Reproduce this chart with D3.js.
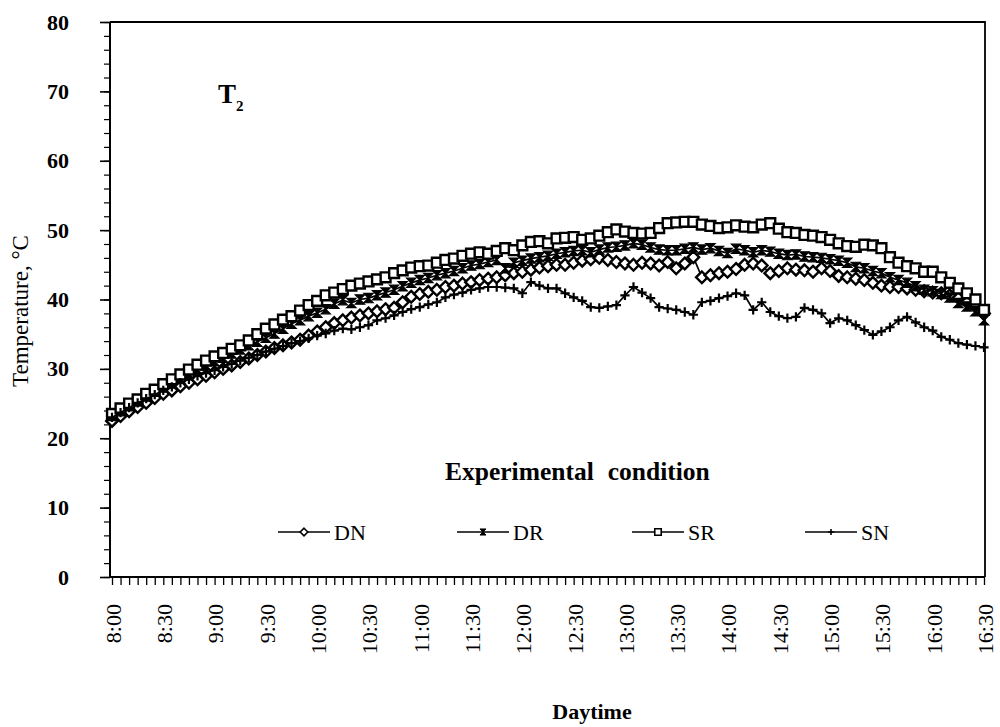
<!DOCTYPE html>
<html>
<head>
<meta charset="utf-8">
<script src="https://cdn.jsdelivr.net/npm/d3@7/dist/d3.min.js"></script>
<style>
    body { margin: 0; background: #fff; }
    svg text { font-family: "Liberation Serif", "Times New Roman", serif; fill: #000; }
</style>
</head>
<body>
<svg id="chart" width="1000" height="727"></svg>
<script>
// readings every 5 minutes, 8:00 .. 16:30
const stepMinutes = 5;
const timeLabels = ["8:00", "8:30", "9:00", "9:30", "10:00", "10:30", "11:00", "11:30", "12:00",
    "12:30", "13:00", "13:30", "14:00", "14:30", "15:00", "15:30", "16:00", "16:30"];
const yTicks = [0, 10, 20, 30, 40, 50, 60, 70, 80];

const dn = [
    22.5, 23.2, 23.9, 24.5, 25.1, 25.8, 26.4, 26.9, 27.5, 28.0, 28.5, 29.0,
    29.5, 30.0, 30.5, 31.0, 31.5, 32.0, 32.5, 33.0, 33.4, 33.8, 34.2, 34.8,
    35.4, 36.0, 36.6, 37.0, 37.4, 37.7, 38.0, 38.3, 38.6, 38.8, 39.6, 40.4,
    40.8, 41.1, 41.4, 41.8, 42.0, 42.3, 42.5, 42.8, 43.0, 43.2, 43.5, 43.8,
    44.0, 44.3, 44.6, 44.8, 45.0, 45.0, 45.3, 45.6, 45.8, 46.0, 45.7, 45.4,
    45.2, 45.0, 45.3, 45.2, 44.9, 45.4, 44.5, 45.2, 46.1, 43.2, 43.5, 43.8,
    44.0, 44.4, 45.0, 45.2, 44.9, 43.8, 44.1, 44.5, 44.3, 44.2, 44.0, 44.5,
    44.1, 43.4, 43.2, 43.0, 42.8, 42.4, 42.0, 41.8, 41.8, 41.6, 41.4, 41.2,
    41.0, 40.9, 40.6, 40.2, 39.6, 39.0, 38.0
];
const dr = [
    23.2, 23.9, 24.6, 25.3, 26.0, 26.7, 27.3, 27.9, 28.6, 29.3, 29.9, 30.5,
    31.1, 31.6, 32.2, 32.8, 33.4, 33.9, 34.5, 35.1, 35.8, 36.5, 37.0, 37.6,
    38.1, 38.6, 39.4, 39.9, 39.5, 40.0, 40.2, 40.6, 41.0, 41.4, 41.9, 42.4,
    42.8, 43.1, 43.5, 43.8, 44.1, 44.5, 44.9, 45.1, 45.4, 45.7, 44.5, 45.3,
    45.6, 45.9, 46.1, 46.3, 46.6, 46.8, 47.0, 47.1, 46.8, 47.2, 47.5, 47.6,
    47.8, 48.1, 47.9, 47.5, 47.2, 47.1, 47.1, 47.3, 47.5, 47.2, 47.4, 47.0,
    46.7, 47.3, 47.1, 46.8, 47.1, 46.9, 46.6, 46.4, 46.5, 46.2, 46.1, 46.0,
    45.8, 45.6, 45.3, 44.7, 44.5, 44.1, 43.8, 43.2, 42.8, 42.4, 41.9, 41.4,
    41.2, 40.8, 40.3, 39.5, 39.0, 38.3, 37.0
];
const sr = [
    23.5, 24.3, 25.0, 25.6, 26.4, 27.0, 27.8, 28.5, 29.2, 29.9, 30.6, 31.2,
    31.8, 32.3, 32.9, 33.4, 34.1, 35.0, 35.8, 36.4, 37.1, 37.6, 38.4, 39.2,
    39.8, 40.6, 41.0, 41.5, 42.0, 42.3, 42.6, 42.9, 43.2, 43.8, 44.2, 44.6,
    44.8, 44.9, 45.3, 45.7, 45.9, 46.3, 46.6, 46.8, 46.6, 47.0, 47.4, 47.1,
    47.8, 48.3, 48.4, 48.1, 48.8, 48.9, 49.0, 48.6, 48.8, 49.2, 49.7, 50.1,
    49.8, 49.6, 49.5, 49.6, 50.3, 51.0, 51.1, 51.2, 51.2, 50.8, 50.6, 50.3,
    50.4, 50.7, 50.5, 50.4, 50.8, 51.0, 50.2, 49.7, 49.6, 49.3, 49.2, 49.0,
    48.6, 48.1, 47.7, 47.6, 47.9, 47.8, 47.4, 46.1, 45.3, 44.8, 44.5, 44.0,
    44.0, 43.2, 42.4, 41.6, 40.9, 40.0, 38.5
];
const sn = [
    23.0, 23.7, 24.4, 25.1, 25.7, 26.3, 26.9, 27.4, 28.0, 28.5, 29.0, 29.4,
    29.8, 30.3, 30.7, 31.2, 31.6, 32.0, 32.5, 32.9, 33.3, 33.7, 34.0, 34.4,
    34.8, 35.1, 35.5, 35.8, 35.7, 36.0, 36.3, 37.0, 37.3, 37.7, 38.2, 38.6,
    38.9, 39.3, 39.6, 40.3, 40.7, 41.0, 41.4, 41.6, 41.8, 41.8, 41.7, 41.6,
    40.9, 42.5, 42.0, 41.6, 41.6, 40.9, 40.3, 39.8, 38.9, 38.8, 39.0, 39.2,
    40.6, 41.8, 41.0, 40.2, 38.9, 38.7, 38.5, 38.2, 37.8, 39.6, 39.8, 40.2,
    40.5, 40.9, 40.6, 38.5, 39.6, 38.2, 37.6, 37.3, 37.5, 38.8, 38.5, 38.0,
    36.6, 37.3, 37.0, 36.3, 35.6, 34.9, 35.4, 36.0, 37.0, 37.5, 36.7, 36.0,
    35.5, 34.6, 34.2, 33.7, 33.5, 33.3, 33.1
];

const series = [
    {name: "DN", values: dn, marker: "diamond"},
    {name: "DR", values: dr, marker: "hourglass"},
    {name: "SR", values: sr, marker: "square"},
    {name: "SN", values: sn, marker: "plus"}
];

// marker shapes, roughly like the old excel ones
function markerPath(type, s) {
    if (type === "diamond") return `M0,${-s}L${s},0L0,${s}L${-s},0Z`;
    if (type === "square") return `M${-s * 0.85},${-s * 0.85}h${s * 1.7}v${s * 1.7}h${-s * 1.7}Z`;
    if (type === "hourglass") return `M${-s * 0.8},${-s * 0.8}L${s * 0.8},${-s * 0.8}L${-s * 0.8},${s * 0.8}L${s * 0.8},${s * 0.8}Z`;
    return `M${-s * 0.8},0H${s * 0.8}M0,${-s * 0.8}V${s * 0.8}`;
}
function styleMarker(sel, type) {
    if (type === "plus") {
        sel.attr("fill", "none").attr("stroke", "#000").attr("stroke-width", 2.2);
    } else if (type === "hourglass") {
        sel.attr("fill", "#000").attr("stroke", "#000").attr("stroke-width", 1.2);
    } else {
        sel.attr("fill", "#fff").attr("stroke", "#000").attr("stroke-width", 2.4);
    }
}

const svg = d3.select("#chart");
const totalMinutes = (timeLabels.length - 1) * 30;

const x = d3.scaleLinear()
    .domain([0, totalMinutes])
    .range([112, 984]);

const y = d3.scaleLinear()
    .domain([0, 80])
    .range([577, 22]);

// frame (top + right)
svg.append("path")
    .attr("d", `M${x.range()[0] - 2},${y(80)}H${x.range()[1] + 1}V${y(0)}`)
    .attr("fill", "none")
    .attr("stroke", "#000")
    .attr("stroke-width", 1.8);

// y axis
const yAxisX = 110;
svg.append("g")
    .attr("transform", `translate(${yAxisX},0)`)
    .call(d3.axisLeft(y).tickValues(d3.range(0, 81, 2)).tickSize(6).tickFormat(""))
    .call(g => g.select(".domain").remove())
    .selectAll("line").attr("stroke-width", 1.2);

const yAxis = svg.append("g")
    .attr("transform", `translate(${yAxisX},0)`)
    .call(d3.axisLeft(y).tickValues(yTicks).tickSize(10).tickPadding(31).tickFormat(d3.format("d")));
yAxis.select(".domain").attr("stroke-width", 2).attr("d", `M0,${y(80)}V${y(0)}`);
yAxis.selectAll("line").attr("stroke-width", 1.6);
yAxis.selectAll("text")
    .style("font-size", "22px")
    .style("font-weight", "bold")
    .style("font-family", "'Liberation Serif', serif");

// x axis
const xAxis = svg.append("g")
    .attr("transform", `translate(0,${y(0)})`)
    .call(d3.axisBottom(x).tickValues(d3.range(0, totalMinutes + 1, stepMinutes)).tickSize(8).tickFormat(""));
xAxis.select(".domain").attr("stroke-width", 2).attr("d", `M${yAxisX},0H${x.range()[1] + 1}`);
xAxis.selectAll("line").attr("stroke-width", 1.3);

const xLabels = svg.append("g")
    .attr("transform", `translate(0,${y(0)})`)
    .call(d3.axisBottom(x).tickValues(d3.range(0, totalMinutes + 1, 30)).tickSize(0)
        .tickFormat((d, i) => timeLabels[i]));
xLabels.select(".domain").remove();
xLabels.selectAll("text")
    .style("font-size", "22px")
    .style("font-family", "'Liberation Serif', serif")
    .attr("text-anchor", "end")
    .attr("transform", "rotate(-90)")
    .attr("x", -27)
    .attr("y", 0)
    .attr("dy", "0.38em");

// series: line first, then markers on top
const line = d3.line()
    .x((d, i) => x(i * stepMinutes))
    .y(d => y(d));

series.forEach(s => {
    svg.append("path")
        .datum(s.values)
        .attr("fill", "none")
        .attr("stroke", "#000")
        .attr("stroke-width", 1.7)
        .attr("d", line);

    svg.append("g")
        .selectAll("path")
        .data(s.values)
        .join("path")
        .attr("transform", (d, i) => `translate(${x(i * stepMinutes)},${y(d)})`)
        .attr("d", markerPath(s.marker, 5.8))
        .call(styleMarker, s.marker);
});

// titles
const t2 = svg.append("text")
    .attr("x", 218)
    .attr("y", 103)
    .style("font-size", "27px")
    .style("font-weight", "bold");
t2.append("tspan").text("T");
t2.append("tspan").attr("dy", 8).style("font-size", "15px").text("2");

svg.append("text")
    .attr("transform", "translate(28,311) rotate(-90)")
    .attr("text-anchor", "middle")
    .style("font-size", "23px")
    .text("Temperature, °C");

svg.append("text")
    .attr("x", 592)
    .attr("y", 719)
    .attr("text-anchor", "middle")
    .style("font-size", "22px")
    .style("font-weight", "bold")
    .text("Daytime");

// legend
const legendTitle = svg.append("text")
    .attr("x", 445)
    .attr("y", 480)
    .style("font-size", "25.5px")
    .style("font-weight", "bold");
legendTitle.append("tspan").text("Experimental");
legendTitle.append("tspan").attr("dx", 14).text("condition");

const legendX = [278, 457, 632, 805];
const legend = svg.append("g");
series.forEach((s, i) => {
    const g = legend.append("g").attr("transform", `translate(${legendX[i]},532)`);
    g.append("line")
        .attr("x1", 0).attr("x2", 52)
        .attr("stroke", "#000").attr("stroke-width", 1.6);
    g.append("path")
        .attr("transform", "translate(26,0)")
        .attr("d", markerPath(s.marker, 3.8))
        .call(styleMarker, s.marker)
        .attr("stroke-width", s.marker === "hourglass" ? 1 : 1.6);
    g.append("text")
        .attr("x", 56)
        .attr("dy", "0.35em")
        .style("font-size", "22px")
        .text(s.name);
});
</script>
</body>
</html>
